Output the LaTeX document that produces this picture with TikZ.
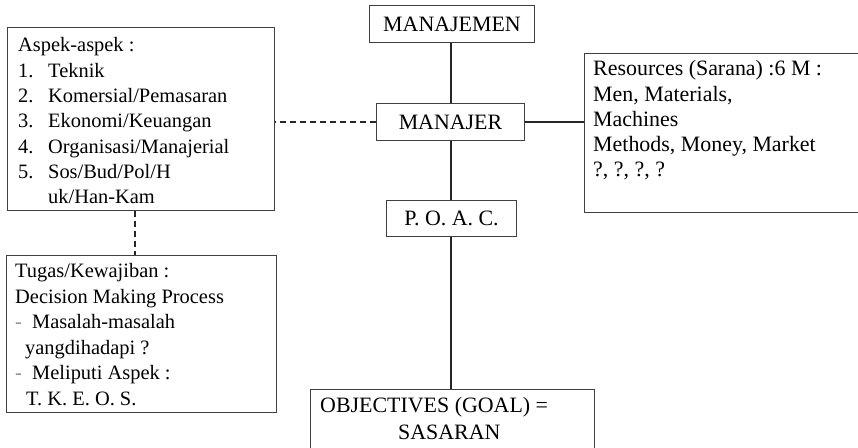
\documentclass[tikz,border=0pt]{standalone}
\usepackage{fontspec}
\setmainfont{Liberation Serif}
\begin{document}
\begin{tikzpicture}[x=1bp,y=-1bp,
  box/.style={draw=black!75, line width=1bp, inner sep=0pt, anchor=north west, font=\fontsize{22}{26}\selectfont},
  ln/.style={anchor=base west, inner sep=0pt, font=\fontsize{20.5}{24}\selectfont},
  lnb/.style={anchor=base west, inner sep=0pt, font=\fontsize{22}{26}\selectfont},
  conn/.style={line width=1.3bp, black!85},
  dconn/.style={conn, dash pattern=on 6bp off 4bp}]
\useasboundingbox (0,0) rectangle (858,448);
\clip (0,0) rectangle (858,448);
\newcommand{\gdash}{\makebox[17bp][l]{\color{black!45}-}}
\newcommand{\numb}[1]{\makebox[30bp][l]{#1}}
% boxes
\node[box, minimum width=165bp, minimum height=37bp] (mgmt) at (369,5) {MANAJEMEN};
\node[box, minimum width=148bp, minimum height=37bp] (mgr) at (376,103) {MANAJER};
\node[box, minimum width=130bp, minimum height=36bp] (poac) at (386,200) {P. O. A. C.};
\node[box, minimum width=284bp, minimum height=80bp] (obj) at (310,389) {};
\node[box, minimum width=267bp, minimum height=183bp] (asp) at (7,27) {};
\node[box, minimum width=270bp, minimum height=157bp] (tug) at (6,255) {};
\node[box, minimum width=300bp, minimum height=159bp] (res) at (584,53) {};
% connectors
\coordinate (cx) at (451,0);
\coordinate (dx) at (135,0);
\draw[conn] (mgmt.south -| cx) -- (mgr.north -| cx);
\draw[conn] (mgr.south -| cx) -- (poac.north -| cx);
\draw[conn] (poac.south -| cx) -- (obj.north -| cx);
\draw[dconn] (mgr.west) -- (mgr.west -| asp.east);
\draw[conn] (mgr.east) -- (mgr.east -| res.west);
\draw[dconn] (asp.south -| dx) -- (tug.north -| dx);
% aspek text
\node[ln] (a0) at (18,52) {Aspek-aspek :};
\node[ln] (a1) at (18,77.3) {\numb{1.}Teknik};
\node[ln] (a2) at (18,102.6) {\numb{2.}Komersial/Pemasaran};
\node[ln] (a3) at (18,127.9) {\numb{3.}Ekonomi/Keuangan};
\node[ln] (a4) at (18,153.2) {\numb{4.}Organisasi/Manajerial};
\node[ln] (a5) at (18,178.5) {\numb{5.}Sos/Bud/Pol/H};
\node[ln] (a6) at (48,203.8) {uk/Han-Kam};
% tugas text
\node[ln] (t0) at (15,278) {Tugas/Kewajiban :};
\node[ln] (t1) at (15,303.5) {Decision Making Process};
\node[ln] (t2) at (15,329) {\gdash Masalah-masalah};
\node[ln] (t3) at (25,354.5) {yangdihadapi ?};
\node[ln] (t4) at (15,380) {\gdash Meliputi Aspek :};
\node[ln] (t5) at (26,405.5) {T. K. E. O. S.};
% resources text
\node[lnb] (r0) at (593,76) {Resources (Sarana) :6 M :};
\node[lnb] (r1) at (593,101.2) {Men, Materials,};
\node[lnb] (r2) at (593,126.4) {Machines};
\node[lnb] (r3) at (593,151.6) {Methods, Money, Market};
\node[lnb] (r4) at (593,176.8) {?, ?, ?, ?};
% objectives text
\node[lnb] (o1) at (320,412) {OBJECTIVES (GOAL) =};
\node[lnb] (o2) at (398,439) {SASARAN};
\end{tikzpicture}
\end{document}
